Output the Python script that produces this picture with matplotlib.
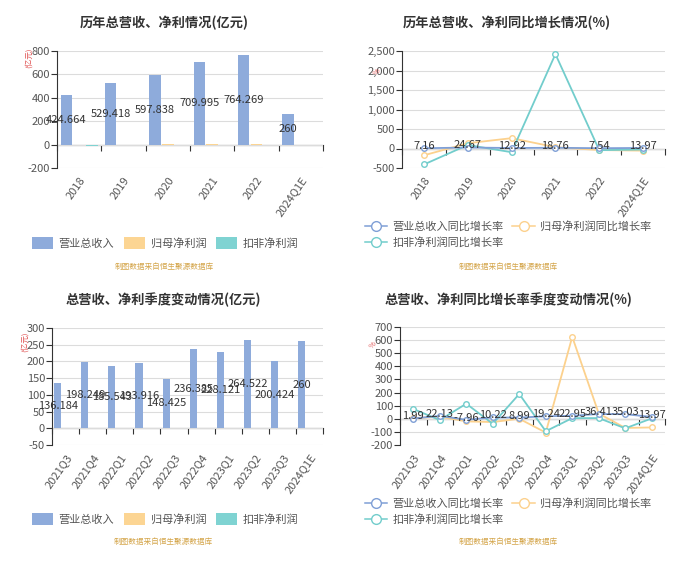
import numpy as np
import matplotlib.pyplot as plt
from matplotlib.lines import Line2D
from matplotlib.patches import Patch
from matplotlib.ticker import FuncFormatter

plt.rcParams['font.family'] = ['Noto Sans CJK SC', 'DejaVu Sans']
plt.rcParams['axes.unicode_minus'] = False

# ---- data ----
years = ['2018', '2019', '2020', '2021', '2022', '2024Q1E']
rev_year = [424.664, 529.418, 597.838, 709.995, 764.269, 260]
np_year = [0.3, 0.7, 2.6, 3.5, 1.8, 0.5]
dnp_year = [-8.0, 0.6, -0.1, 0.6, 0.3, 0.2]

rev_yoy_year = [7.16, 24.67, 12.92, 18.76, 7.54, 13.97]
np_yoy_year = [-175, 135, 265, 34, -40, -55]
dnp_yoy_year = [-410, 90, -95, 2420, -43, -26]

quarters = ['2021Q3', '2021Q4', '2022Q1', '2022Q2', '2022Q3', '2022Q4',
            '2023Q1', '2023Q2', '2023Q3', '2024Q1E']
rev_q = [136.184, 198.249, 185.543, 193.916, 148.425, 236.385,
         228.121, 264.522, 200.424, 260]
np_q = [0.5, 0.8, 0.4, 0.6, 0.5, 0.3, 0.8, 0.9, 0.4, 0.3]
dnp_q = [0.4, 0.6, 0.3, 0.5, 0.4, 0.1, 0.7, 0.8, 0.3, 0.2]

rev_yoy_q = [1.99, 22.13, -7.96, 10.22, 8.99, 19.24, 22.95, 36.41, 35.03, 13.97]
np_yoy_q = [5, 15, -20, -25, 0, -105, 625, 40, -70, -66]
dnp_yoy_q = [75, -10, 115, -38, 189, -95, 5, 5, -73, 3]

names_bar = ['营业总收入', '归母净利润', '扣非净利润']
names_line = ['营业总收入同比增长率', '归母净利润同比增长率', '扣非净利润同比增长率']
titles = ['历年总营收、净利情况(亿元)', '历年总营收、净利同比增长情况(%)',
          '总营收、净利季度变动情况(亿元)', '总营收、净利同比增长率季度变动情况(%)']
source = '制图数据来自恒生聚源数据库'

c_blue, c_yel, c_teal = '#8eabdb', '#fcd593', '#7fd3d2'
l_blue, l_yel, l_teal = '#7f9fd6', '#fcd18d', '#72cdcc'
dark = '#333333'
W, H = 700, 577

fig = plt.figure(figsize=(7, 5.77), dpi=100)


def px_axes(x0, x1, y0, y1):
    return fig.add_axes([x0 / W, 1 - y1 / H, (x1 - x0) / W, (y1 - y0) / H])


def style(ax, cats, ylim, step, fmt=None):
    n = len(cats)
    ax.set_xlim(-0.5, n - 0.5)
    ax.set_ylim(*ylim)
    ax.set_yticks(np.arange(ylim[0], ylim[1] + step / 2, step))
    if fmt:
        ax.yaxis.set_major_formatter(FuncFormatter(fmt))
    ax.grid(axis='y', color='#dcdcdc', lw=0.8)
    ax.set_axisbelow(True)
    for s in ['top', 'right', 'bottom']:
        ax.spines[s].set_visible(False)
    ax.spines['left'].set_color(dark)
    ax.tick_params(axis='y', direction='out', length=4, color=dark,
                   labelsize=8, labelcolor='#555555', pad=1)
    ax.set_xticks(range(n))
    ax.set_xticklabels(cats, rotation=55, ha='right', va='top',
                       rotation_mode='anchor', fontsize=8, color='#555555')
    ax.tick_params(axis='x', length=0, pad=5)
    # zero axis line with boundary ticks
    loc = (0 - ylim[0]) / (ylim[1] - ylim[0])
    sec = ax.secondary_xaxis(loc)
    sec.set_xticks(np.arange(n + 1) - 0.5)
    sec.tick_params(axis='x', direction='out', length=4, color=dark,
                    labelbottom=False)
    sec.spines['bottom'].set_color(dark)


def bar_chart(ax, cats, rev, npf, dnp, ylim, step):
    x = np.arange(len(cats))
    w = 0.26
    b = ax.bar(x - 0.29, rev, w, color=c_blue, zorder=2)
    ax.bar(x, npf, w, color=c_yel, zorder=2)
    ax.bar(x + 0.29, dnp, w, color=c_teal, zorder=2)
    ax.bar_label(b, labels=[f'{v:g}' for v in rev], label_type='center',
                 fontsize=8, color=dark, zorder=5)
    style(ax, cats, ylim, step)


def line_chart(ax, cats, rev, npf, dnp, ylim, step, fmt=None):
    x = np.arange(len(cats))
    kw = dict(marker='o', ms=4, mfc='white', lw=1.3, zorder=3)
    ax.plot(x, npf, color=l_yel, **kw)
    ax.plot(x, dnp, color=l_teal, **kw)
    ax.plot(x, rev, color=l_blue, **kw)
    for i, v in enumerate(rev):
        ax.annotate(f'{v}', (i, v), xytext=(0, 1.5), textcoords='offset points',
                    ha='center', va='center', fontsize=8, color=dark, zorder=6)
    style(ax, cats, ylim, step, fmt)


comma = lambda v, p: f'{v:,.0f}'

ax1 = px_axes(57, 323, 51, 168)
bar_chart(ax1, years, rev_year, np_year, dnp_year, (-200, 800), 200)
ax2 = px_axes(402, 665, 51, 168)
line_chart(ax2, years, rev_yoy_year, np_yoy_year, dnp_yoy_year, (-500, 2500), 500, comma)
ax3 = px_axes(52, 323, 328, 445)
bar_chart(ax3, quarters, rev_q, np_q, dnp_q, (-50, 300), 50)
ax4 = px_axes(400, 665, 327, 445)
line_chart(ax4, quarters, rev_yoy_q, np_yoy_q, dnp_yoy_q, (-200, 700), 100)

# titles
for (xc, yc), t in zip([(164, 23), (507, 23), (163, 300), (508, 300)], titles):
    fig.text(xc / W, 1 - yc / H, t, ha='center', va='center', fontsize=9.5,
             fontweight='bold', color=dark)

# unit labels
fig.text(29 / W, 1 - 58 / H, '(亿元)', rotation=90, ha='center', va='center',
         fontsize=5.5, color='#e05050')
fig.text(25 / W, 1 - 342 / H, '(亿元)', rotation=90, ha='center', va='center',
         fontsize=5.5, color='#e05050')
fig.text(377 / W, 1 - 72 / H, '%', rotation=45, ha='center', va='center',
         fontsize=5.5, color='#e05050')
fig.text(373 / W, 1 - 345 / H, '%', rotation=45, ha='center', va='center',
         fontsize=5.5, color='#e05050')

# bar legends
bar_handles = [Patch(facecolor=c, edgecolor='none') for c in (c_blue, c_yel, c_teal)]
for yc in (243, 519):
    fig.legend(bar_handles, names_bar, loc='center', ncol=3, frameon=False,
               bbox_to_anchor=(165 / W, 1 - yc / H), fontsize=8,
               handlelength=1.9, handleheight=1.4, columnspacing=0.9,
               handletextpad=0.5, labelcolor='#555555')

# line legends (row1: revenue, profit; row2: deducted)
def lh(c):
    return Line2D([], [], color=c, marker='o', ms=7, mfc='white', lw=1.1)

line_handles = [lh(l_blue), lh(l_teal), lh(l_yel)]
line_labels = [names_line[0], names_line[2], names_line[1]]
for yc in (234, 511):
    fig.legend(line_handles, line_labels, loc='center', ncol=2, frameon=False,
               bbox_to_anchor=(508 / W, 1 - yc / H), fontsize=8,
               handlelength=2.0, columnspacing=0.8, handletextpad=0.5,
               labelspacing=0.45, labelcolor='#555555')

# source notes
for xc, yc in [(164, 267), (508, 267), (163, 542), (508, 542)]:
    fig.text(xc / W, 1 - yc / H, source, ha='center', va='center',
             fontsize=5.5, color='#d4a54a')

fig.savefig('out.png', dpi=100)
